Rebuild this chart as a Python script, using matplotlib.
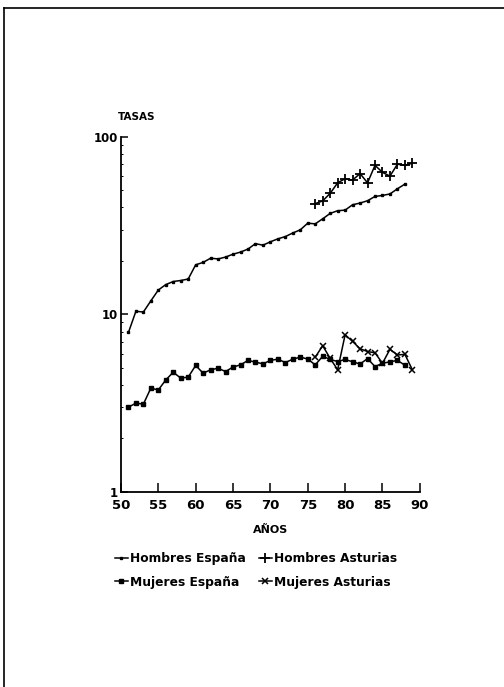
import matplotlib
matplotlib.use("Agg")
import matplotlib.pyplot as plt
from matplotlib.lines import Line2D

# datos (tasas, escala log)
anios_esp = list(range(51, 89))
hombres_esp = [7.9, 10.4, 10.3, 11.9, 13.7, 14.7, 15.3, 15.5, 15.8, 19.0,
               19.6, 20.7, 20.5, 21.0, 21.8, 22.4, 23.3, 25.0, 24.5, 25.6,
               26.6, 27.4, 28.7, 29.9, 32.6, 32.3, 34.5, 37.0, 38.3, 38.6,
               41.4, 42.3, 43.6, 46.1, 46.7, 47.6, 50.9, 54.1]
mujeres_esp = [3.0, 3.16, 3.12, 3.84, 3.75, 4.27, 4.72, 4.37, 4.43, 5.15,
               4.66, 4.87, 4.97, 4.76, 5.05, 5.19, 5.5, 5.38, 5.26, 5.5,
               5.59, 5.35, 5.59, 5.74, 5.6, 5.19, 5.8, 5.57, 5.42, 5.57,
               5.4, 5.25, 5.63, 5.08, 5.3, 5.4, 5.5, 5.17]

anios_ast = list(range(76, 90))
hombres_ast = [42, 43.5, 48, 55, 58, 57, 62, 55, 69, 63, 60, 70, 69, 71]
mujeres_ast = [5.74, 6.65, 5.65, 4.87, 7.67, 7.03, 6.4, 6.17, 6.07, 5.3,
               6.35, 5.9, 5.95, 4.87]

xticks = [50, 55, 60, 65, 70, 75, 80, 85, 90]

plt.rcParams['font.family'] = ['DejaVu Sans']

fig = plt.figure(figsize=(5.04, 6.87), dpi=100)
ax = fig.add_axes([0.240, 0.284, 0.593, 0.517])

ax.plot(anios_esp, hombres_esp, color='black', lw=1.1, marker='s', ms=1.8,
        label='Hombres España')
ax.plot(anios_ast, hombres_ast, color='black', lw=1.1, marker='+', ms=6.5,
        mew=1.3, label='Hombres Asturias')
ax.plot(anios_esp, mujeres_esp, color='black', lw=1.1, marker='s', ms=3.5,
        label='Mujeres España')
ax.plot(anios_ast, mujeres_ast, color='black', lw=1.1, marker='x', ms=5,
        mew=1.1, label='Mujeres Asturias')

ax.set_yscale('log')
ax.set_ylim(1, 100)
ax.set_xlim(50, 90)
ax.set_xticks(xticks)
ax.set_xticklabels([str(t) for t in xticks])
ax.set_yticks([1, 10, 100])
ax.set_yticklabels(['1', '10', '100'])

for s in ['top', 'right']:
    ax.spines[s].set_visible(False)
for s in ['left', 'bottom']:
    ax.spines[s].set_linewidth(1.3)

ax.tick_params(axis='x', direction='in', length=6.5, width=1.1,
               labelsize=9.5, pad=5)
ax.tick_params(axis='y', which='major', direction='in', length=5,
               width=1.1, labelsize=8.5, pad=2)
ax.tick_params(axis='y', which='minor', direction='in', length=1.5, width=0.7)
ax.tick_params(axis='y', which='minor', labelleft=False)
for lab in ax.get_xticklabels() + ax.get_yticklabels():
    lab.set_fontweight('bold')

fig.text(0.234, 0.830, 'TASAS', fontsize=7.5, fontweight='bold',
         ha='left', va='center')
fig.text(0.536, 0.228, 'AÑOS', fontsize=8, fontweight='bold',
         ha='center', va='center')

h = ax.get_legend_handles_labels()
orden = [0, 2, 1, 3]
handles = [h[0][i] for i in orden]
labels = [h[1][i] for i in orden]
leg = fig.legend(handles, labels, ncol=2, loc='upper left',
                 bbox_to_anchor=(0.207, 0.212), frameon=False,
                 handlelength=1.0, handletextpad=0.2, columnspacing=1.1,
                 labelspacing=0.85, prop={'size': 8.8, 'weight': 'bold'})

# marco de la pagina
fig.add_artist(Line2D([0.008, 0.008], [0.0, 0.988], color='black', lw=1.2,
                      transform=fig.transFigure))
fig.add_artist(Line2D([0.008, 1.0], [0.988, 0.988], color='black', lw=1.2,
                      transform=fig.transFigure))

fig.savefig('out.png', dpi=100)
